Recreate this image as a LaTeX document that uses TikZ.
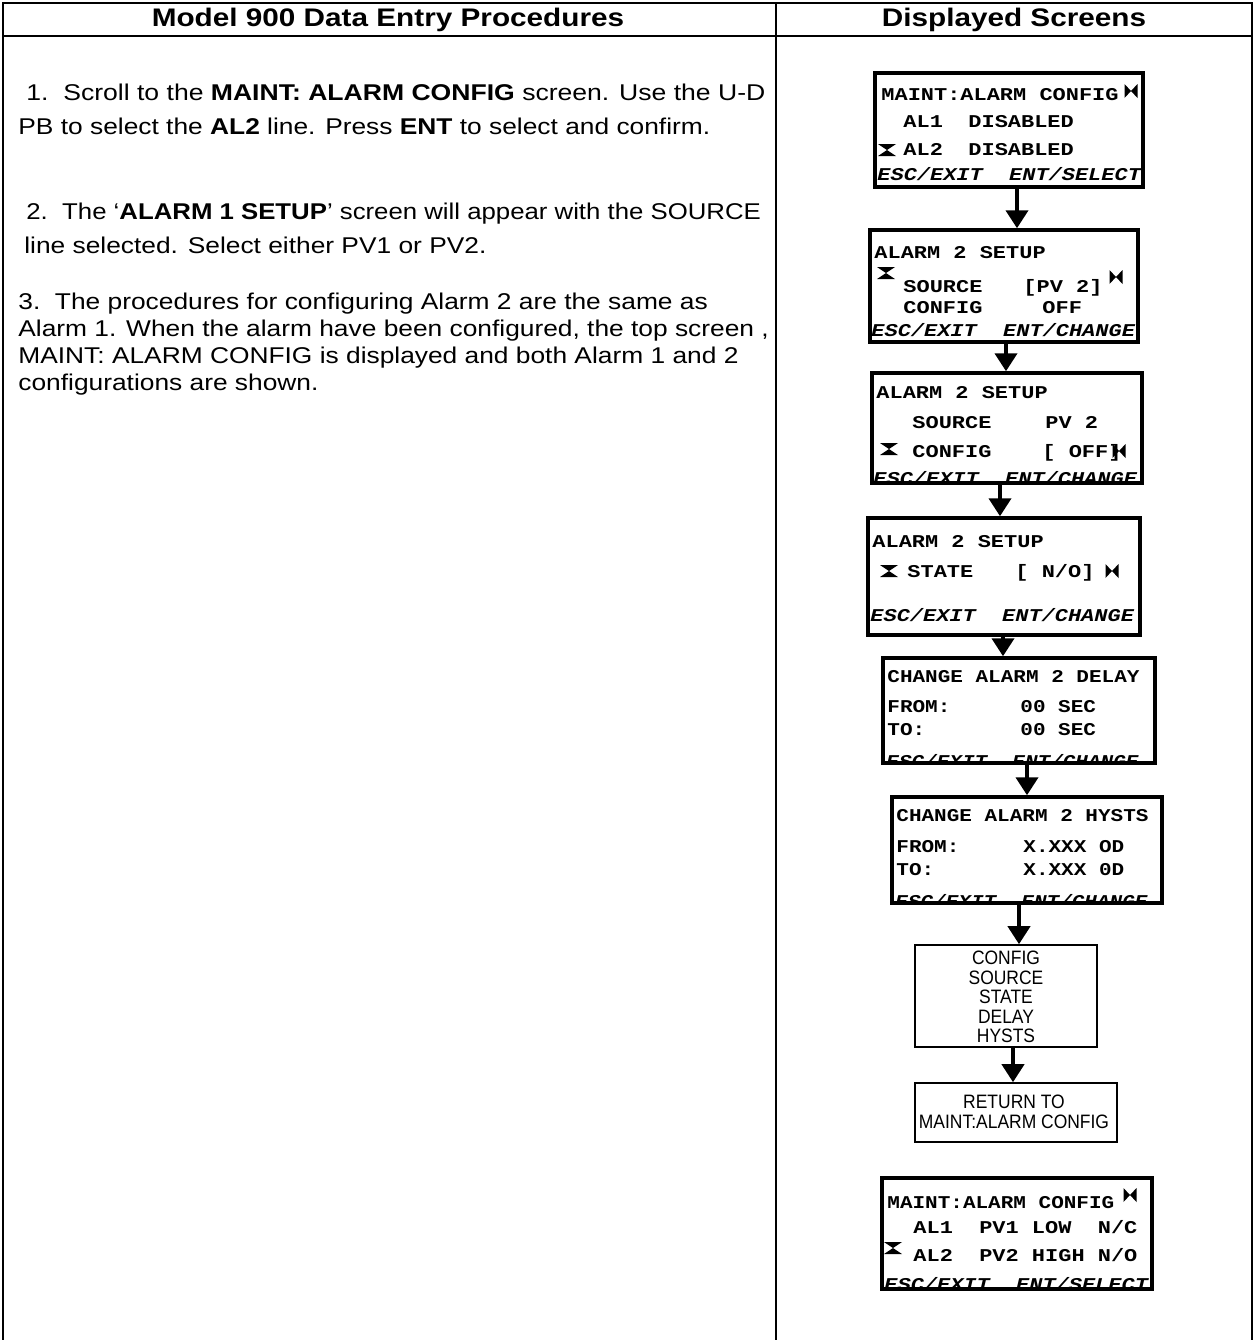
\documentclass[tikz,border=0pt]{standalone}
\usepackage{fontspec}
\setmainfont{Liberation Sans}
\newfontfamily\scr{Liberation Mono}
\usetikzlibrary{arrows.meta,fit}
\newcommand\wx[2][1.22]{\scalebox{#1}[1]{#2}}
\begin{document}
\begin{tikzpicture}[x=0.5pt,y=-0.5pt,
  scrbox/.style={draw, line width=1.75pt, inner sep=0pt},
  thinbox/.style={draw, line width=0.8pt, inner sep=0pt},
  lcd/.style={font=\scr\bfseries\fontsize{9}{10}\selectfont, anchor=base west, inner sep=0pt},
  lcdi/.style={font=\scr\bfseries\itshape\fontsize{9}{10}\selectfont, anchor=base west, inner sep=0pt},
  body/.style={font=\fontsize{11.4}{13}\selectfont, anchor=base west, inner sep=0pt},
  head/.style={font=\bfseries\fontsize{12.7}{14}\selectfont, inner sep=0pt},
  boxtxt/.style={align=center, font=\fontsize{9.7}{9.75}\selectfont, inner sep=0pt},
  arr/.style={line width=2pt, -{Triangle[width=11pt,length=9pt]}},
  tbl/.style={line width=1pt},
  hg/.pic={\fill (-9,-6) -- (9,-6) -- (0,0) -- cycle (-9,6) -- (9,6) -- (0,0) -- cycle;},
  bt/.pic={\fill (-6.5,-7) -- (-6.5,7) -- (0,0) -- cycle (6.5,-7) -- (6.5,7) -- (0,0) -- cycle;}
]
\useasboundingbox (0,0) rectangle (1254,1340);

% table
\draw[tbl] (3,1340) -- (3,3) -- (1252,3) -- (1252,1340);
\draw[tbl] (3,36) -- (1252,36);
\draw[tbl] (776,3) -- (776,1340);
\node[head] (h1) at (388,20) {\wx[1.17]{Model 900 Data Entry Procedures}};
\node[head] (h2) at (1014,20) {\wx[1.17]{Displayed Screens}};

% left text
\node[body] (t1a) at (26,100) {\wx[1.165]{1.\ \ Scroll to the \textbf{MAINT: ALARM CONFIG} screen. Use the U-D}};
\node[body] (t1b) at (18,134) {\wx[1.155]{PB to select the \textbf{AL2} line. Press \textbf{ENT} to select and confirm.}};
\node[body] (t2a) at (26,219) {\wx[1.13]{2.\ \ The ‘\textbf{ALARM 1 SETUP}’ screen will appear with the SOURCE}};
\node[body] (t2b) at (24,253) {\wx[1.155]{line selected. Select either PV1 or PV2.}};
\node[body] (t3a) at (18,309) {\wx[1.155]{3.\ \ The procedures for configuring Alarm 2 are the same as}};
\node[body] (t3b) at (18,336) {\wx[1.155]{Alarm 1. When the alarm have been configured, the top screen ,}};
\node[body] (t3c) at (18,363) {\wx[1.155]{MAINT: ALARM CONFIG is displayed and both Alarm 1 and 2}};
\node[body] (t3d) at (18,390) {\wx[1.155]{configurations are shown.}};

% screen 1
\begin{scope}
\clip (875,73) rectangle (1143,187);
\node[lcd] (s1l1) at (881,100) {\wx{MAINT:ALARM CONFIG}};
\node[lcd] (s1l2) at (903,127) {\wx{AL1}};
\node[lcd] (s1l2b) at (968,127) {\wx{DISABLED}};
\node[lcd] (s1l3) at (903,155) {\wx{AL2}};
\node[lcd] (s1l3b) at (968,155) {\wx{DISABLED}};
\node[lcdi] (s1l4) at (877,180) {\wx{ESC/EXIT\ \ ENT/SELECT}};
\pic at (887,150) {hg};
\pic at (1131,91) {bt};
\end{scope}
\node[scrbox, fit={(875,73) (1143,187)}] (s1) {};

% screen 2
\begin{scope}
\clip (870,230) rectangle (1138,342);
\node[lcd] (s2l1) at (874,258) {\wx{ALARM 2 SETUP}};
\node[lcd] (s2l2) at (903,292) {\wx{SOURCE}};
\node[lcd] (s2l2b) at (1023,292) {\wx{[PV 2]}};
\node[lcd] (s2l3) at (903,313) {\wx{CONFIG}};
\node[lcd] (s2l3b) at (1042,313) {\wx{OFF}};
\node[lcdi] (s2l4) at (871,336) {\wx{ESC/EXIT\ \ ENT/CHANGE}};
\pic at (886,273) {hg};
\pic at (1116,277) {bt};
\end{scope}
\node[scrbox, fit={(870,230) (1138,342)}] (s2) {};

% screen 3
\begin{scope}
\clip (872,373) rectangle (1142,483);
\node[lcd] (s3l1) at (876,398) {\wx{ALARM 2 SETUP}};
\node[lcd] (s3l2) at (912,428) {\wx{SOURCE}};
\node[lcd] (s3l2b) at (1045,428) {\wx{PV 2}};
\node[lcd] (s3l3) at (912,457) {\wx{CONFIG}};
\node[lcd] (s3l3b) at (1042,457) {\wx{[ OFF]}};
\node[lcdi] (s3l4) at (873,484) {\wx{ESC/EXIT\ \ ENT/CHANGE}};
\pic at (889,449) {hg};
\pic at (1119,451) {bt};
\end{scope}
\node[scrbox, fit={(872,373) (1142,483)}] (s3) {};

% screen 4
\begin{scope}
\clip (868,518) rectangle (1140,635);
\node[lcd] (s4l1) at (872,547) {\wx{ALARM 2 SETUP}};
\node[lcd] (s4l2) at (907,577) {\wx{STATE}};
\node[lcd] (s4l2b) at (1015,577) {\wx{[ N/O]}};
\node[lcdi] (s4l4) at (870,621) {\wx{ESC/EXIT\ \ ENT/CHANGE}};
\pic at (889,571) {hg};
\pic at (1112,571) {bt};
\end{scope}
\node[scrbox, fit={(868,518) (1140,635)}] (s4) {};

% screen 5
\begin{scope}
\clip (883,658) rectangle (1155,763);
\node[lcd] (s5l1) at (887,682) {\wx[1.167]{CHANGE ALARM 2 DELAY}};
\node[lcd] (s5l2) at (887,712) {\wx[1.167]{FROM:}};
\node[lcd] (s5l2b) at (1020,712) {\wx[1.167]{00 SEC}};
\node[lcd] (s5l3) at (887,735) {\wx[1.167]{TO:}};
\node[lcd] (s5l3b) at (1020,735) {\wx[1.167]{00 SEC}};
\node[lcdi] (s5l4) at (886,767) {\wx[1.167]{ESC/EXIT\ \ ENT/CHANGE}};
\end{scope}
\node[scrbox, fit={(883,658) (1155,763)}] (s5) {};

% screen 6
\begin{scope}
\clip (892,797) rectangle (1162,903);
\node[lcd] (s6l1) at (896,821) {\wx[1.167]{CHANGE ALARM 2 HYSTS}};
\node[lcd] (s6l2) at (896,852) {\wx[1.167]{FROM:}};
\node[lcd] (s6l2b) at (1023,852) {\wx[1.167]{X.XXX OD}};
\node[lcd] (s6l3) at (896,875) {\wx[1.167]{TO:}};
\node[lcd] (s6l3b) at (1023,875) {\wx[1.167]{X.XXX 0D}};
\node[lcdi] (s6l4) at (895,907) {\wx[1.167]{ESC/EXIT\ \ ENT/CHANGE}};
\end{scope}
\node[scrbox, fit={(892,797) (1162,903)}] (s6) {};

% plain boxes
\node[thinbox, fit={(915,945) (1097,1047)}] (b7) {};
\node[boxtxt] (b7t) at (1006,997) {\wx[0.9]{CONFIG}\\\wx[0.9]{SOURCE}\\\wx[0.9]{STATE}\\\wx[0.9]{DELAY}\\\wx[0.9]{HYSTS}};
\node[thinbox, fit={(915,1083) (1117,1142)}] (b8) {};
\node[boxtxt] (b8t) at (1014,1112) {\wx[0.9]{RETURN TO}\\\wx[0.9]{MAINT:ALARM CONFIG}};

% screen 9
\begin{scope}
\clip (882,1178) rectangle (1152,1289);
\node[lcd] (s9l1) at (887,1208) {\wx[1.167]{MAINT:ALARM CONFIG}};
\node[lcd] (s9l2) at (913,1233) {\wx{AL1\ \ PV1 LOW\ \ N/C}};
\node[lcd] (s9l3) at (913,1261) {\wx{AL2\ \ PV2 HIGH N/O}};
\node[lcdi] (s9l4) at (884,1290) {\wx{ESC/EXIT\ \ ENT/SELECT}};
\pic at (893,1248) {hg};
\pic at (1130,1195) {bt};
\end{scope}
\node[scrbox, fit={(882,1178) (1152,1289)}] (s9) {};

% arrows
\coordinate (x1) at (1017,0);
\coordinate (x2) at (1006,0);
\coordinate (x3) at (1000,0);
\coordinate (x4) at (1003,0);
\coordinate (x5) at (1027,0);
\coordinate (x6) at (1019,0);
\coordinate (x7) at (1013,0);
\draw[arr] (s1.south -| x1) -- (s2.north -| x1);
\draw[arr] (s2.south -| x2) -- (s3.north -| x2);
\draw[arr] (s3.south -| x3) -- (s4.north -| x3);
\draw[arr] (s4.south -| x4) -- (s5.north -| x4);
\draw[arr] (s5.south -| x5) -- (s6.north -| x5);
\draw[arr] (s6.south -| x6) -- (b7.north -| x6);
\draw[arr] (b7.south -| x7) -- (b8.north -| x7);
\end{tikzpicture}
\end{document}
